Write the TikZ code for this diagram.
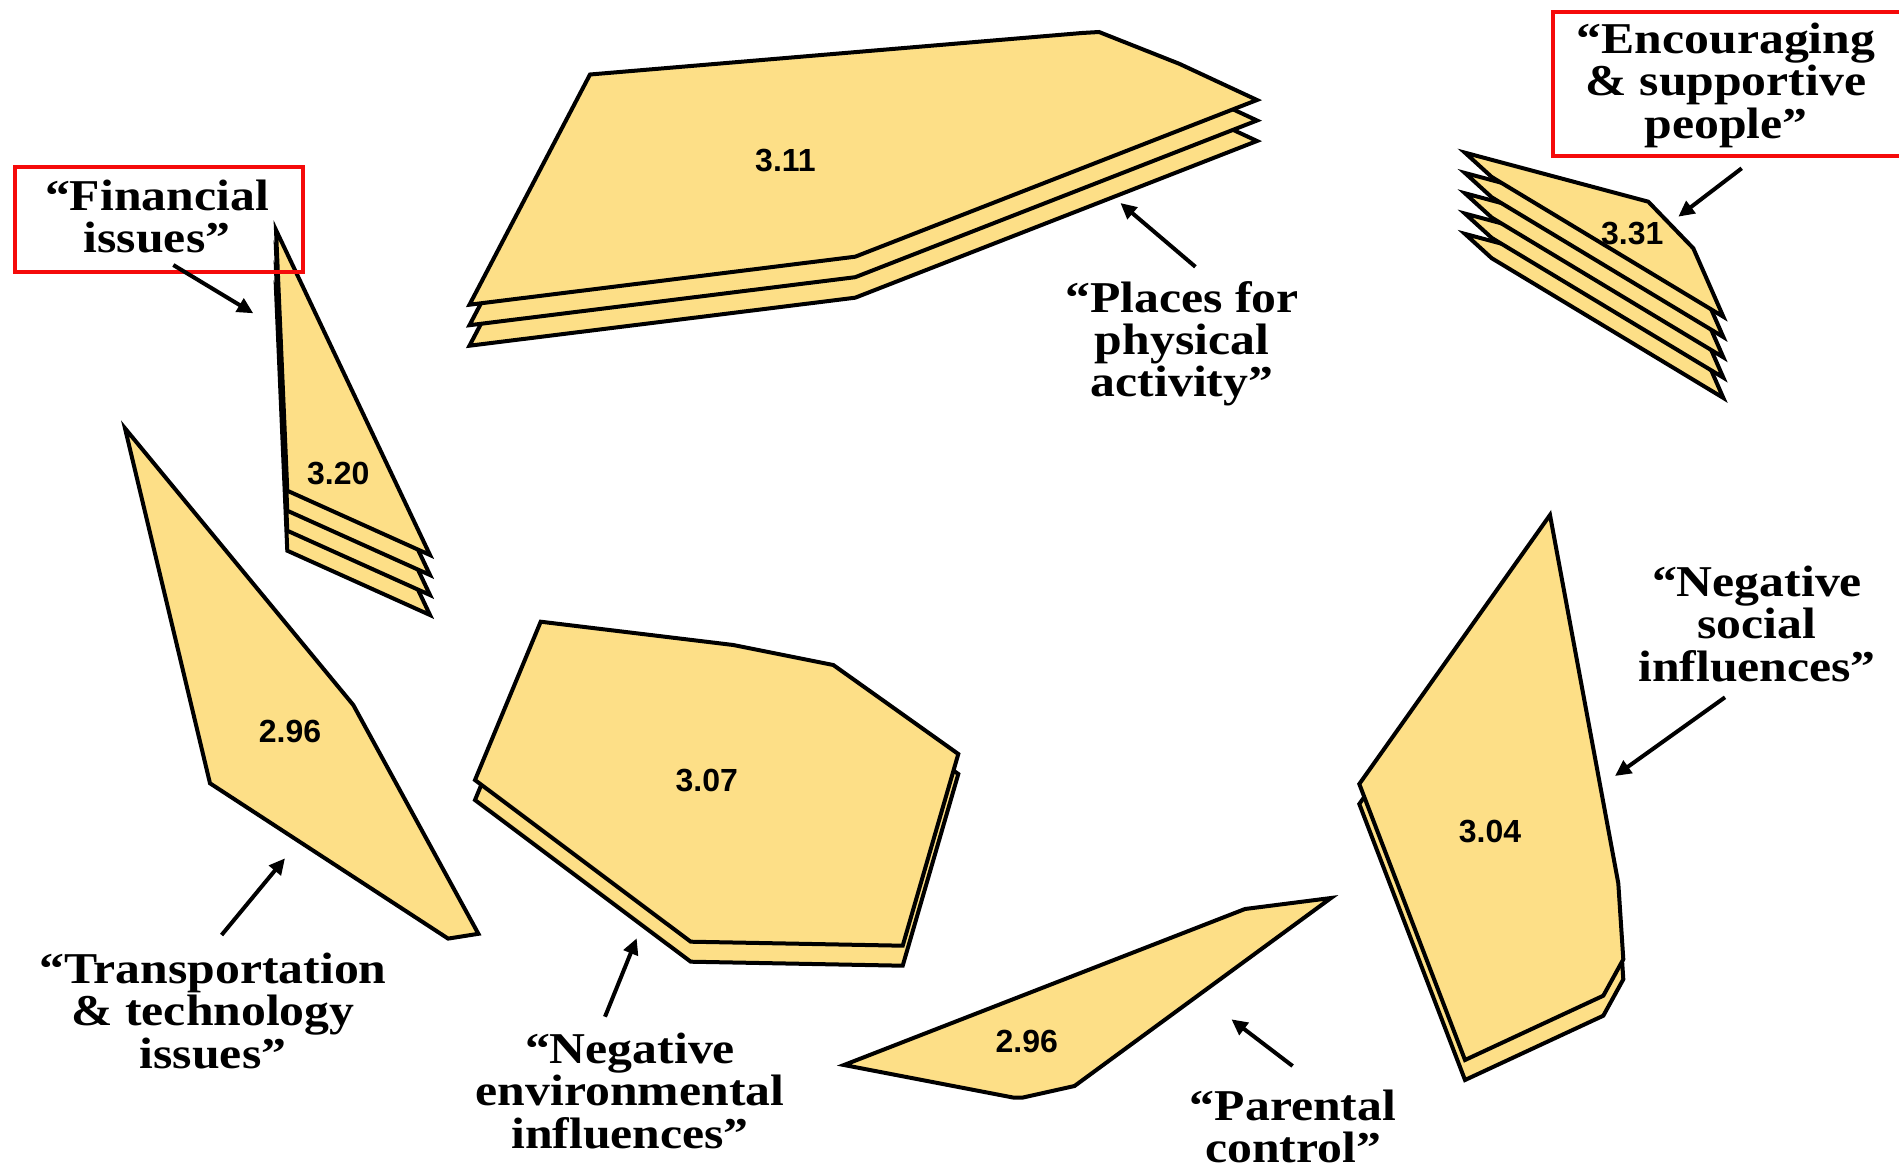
\documentclass[tikz,border=0pt]{standalone}
\usepackage{fontspec}
\setmainfont{Liberation Serif}
\setsansfont{Liberation Sans}
\usepackage{graphicx}
\usetikzlibrary{arrows.meta}

\definecolor{leafyellow}{RGB}{253,223,135}
\definecolor{boxred}{RGB}{245,10,10}

% centred multi-line label, slightly widened
\newcommand{\labeltext}[1]{\scalebox{1.13}[1]{\begin{tabular}[t]{@{}c@{}}#1\end{tabular}}}
% a stack of identical sheets, each shifted down by #2, drawn bottom sheet first
\newcommand{\leafstack}[3]{\foreach \k in {#1,...,0}{\draw[leaf,shift={(0,\k*#2)}] #3 -- cycle;}}

\begin{document}
\begin{tikzpicture}[x=1pt,y=-1pt,
  leaf/.style={fill=leafyellow,draw=black,line width=4pt,line join=miter},
  num/.style={font=\fontsize{32}{32}\selectfont\sffamily\bfseries,inner sep=0pt},
  lbl/.style={font=\fontsize{44}{39.5}\selectfont\bfseries,inner sep=0pt,anchor=base},
  redbox/.style={draw=boxred,line width=4pt,inner sep=0pt,anchor=north west},
  pointer/.style={line width=4pt,-{Triangle[length=16pt,width=15pt]}}]
\useasboundingbox (0,0) rectangle (1899,1175);

% ---- sheets ----
\leafstack{2}{20.5}{(590,74.5) -- (1082,33) -- (1099,32) -- (1179.3,63.8) -- (1257,100) -- (855.2,256.7) -- (469.5,304.7)}
\leafstack{4}{20.3}{(1465,152.7) -- (1648.3,201.7) -- (1693.3,248.3) -- (1723.3,316.7) -- (1491.7,177)}
\leafstack{3}{20}{(276,230) -- (430,555) -- (287.3,490.7)}
\draw[leaf] (125,428.3) -- (353.3,705) -- (478.4,933.8) -- (448.1,938.6) -- (210,783.3) -- cycle;
\leafstack{1}{20}{(540.7,621.7) -- (733.3,645) -- (833.3,665) -- (958.3,754) -- (902.7,945.7) -- (690.7,941.7) -- (475,780)}
\leafstack{1}{20}{(1550,515) -- (1618.3,883.3) -- (1623.3,959.3) -- (1603.3,995.7) -- (1465,1060) -- (1359.3,784)}
\draw[leaf] (844,1065) -- (1245,909) -- (1331,898) -- (1074.5,1086) -- (1023,1097.5) -- (1013,1097.5) -- cycle;

% ---- ratings ----
\node[num] (v311) at (785.5,161) {3.11};
\node[num] (v331) at (1632.3,234) {3.31};
\node[num] (v320) at (338.3,473.3) {3.20};
\node[num] (v296a) at (290,731.7) {2.96};
\node[num] (v307) at (706.7,780) {3.07};
\node[num] (v304) at (1490,831.7) {3.04};
\node[num] (v296b) at (1026.7,1041) {2.96};

% ---- theme labels ----
\node[lbl] (tfin) at (157,210) {\labeltext{“Financial\\issues”}};
\node[lbl] (tenc) at (1726,53.3) {\labeltext{“Encouraging\\\& supportive\\people”}};
\node[lbl] (tpla) at (1182,312) {\labeltext{“Places for\\physical\\activity”}};
\node[lbl] (tsoc) at (1757,596) {\labeltext{“Negative\\social\\influences”}};
\node[lbl] (tpar) at (1293,1120) {\labeltext{“Parental\\control”}};
\node[lbl] (tenv) at (630,1063) {\labeltext{“Negative\\environmental\\influences”}};
\node[lbl] (ttra) at (213,983.4) {\labeltext{“Transportation\\\& technology\\issues”}};

% ---- highlight frames ----
\node[redbox,minimum width=288.3pt,minimum height=104.7pt] (bfin) at (13,165.3) {};
\node[redbox,minimum width=348.5pt,minimum height=144.5pt] (benc) at (1551,9.5) {};

% ---- pointers ----
\coordinate (finS) at (173.3,265);   \coordinate (finE) at (253.3,313.3);
\coordinate (plaS) at (1195.4,266.8); \coordinate (plaE) at (1120.4,203);
\coordinate (encS) at (1741.7,168.3); \coordinate (encE) at (1678.3,216.7);
\coordinate (socS) at (1725,697.3);   \coordinate (socE) at (1615,776);
\coordinate (parS) at (1292.6,1066);  \coordinate (parE) at (1231.4,1019.3);
\coordinate (envS) at (605,1016.7);   \coordinate (envE) at (636.7,938.3);
\coordinate (traS) at (221.6,935);    \coordinate (traE) at (285,858.3);
\draw[pointer] (finS) -- (finE);
\draw[pointer] (plaS) -- (plaE);
\draw[pointer] (encS) -- (encE);
\draw[pointer] (socS) -- (socE);
\draw[pointer] (parS) -- (parE);
\draw[pointer] (envS) -- (envE);
\draw[pointer] (traS) -- (traE);
\end{tikzpicture}
\end{document}
